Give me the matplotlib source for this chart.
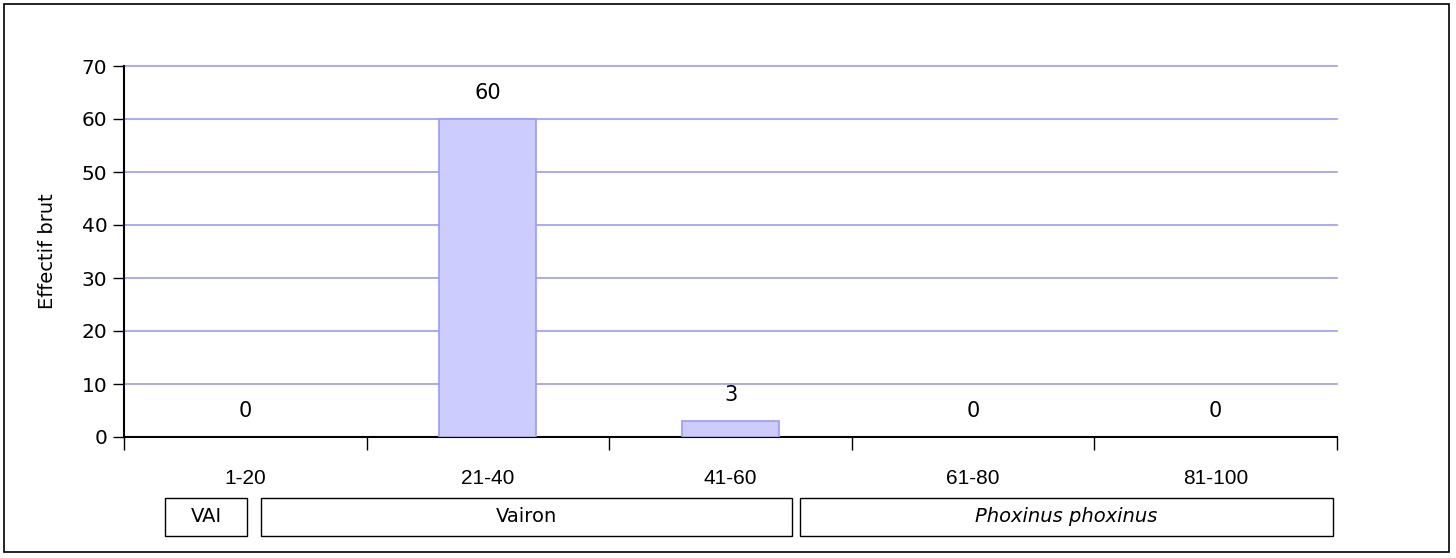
import matplotlib
matplotlib.use("Agg")
import matplotlib.pyplot as plt
from matplotlib.patches import Rectangle

categories = ["1-20", "21-40", "41-60", "61-80", "81-100"]
counts = [0, 60, 3, 0, 0]
y_ticks = [0, 10, 20, 30, 40, 50, 60, 70]
y_label = "Effectif brut"
# (label, x0, x1, italic) in figure pixels
species_boxes = [("VAI", 165, 247, False),
                 ("Vairon", 261, 792, False),
                 ("Phoxinus phoxinus", 800, 1333, True)]

W, H = 1456, 558
fig = plt.figure(figsize=(W / 100, H / 100), dpi=100)
plt.rcParams["font.family"] = ["DejaVu Sans"]

def fx(px):
    return px / W

def fy(py):
    return 1 - py / H

# outer chart frame
fig.patches.append(Rectangle((fx(4), fy(552)), fx(1449) - fx(4), fy(4) - fy(552),
                             transform=fig.transFigure, fill=False,
                             edgecolor="black", linewidth=1.2))

ax = fig.add_axes([fx(124), fy(437), fx(1337) - fx(124), fy(66) - fy(437)])
x = list(range(len(categories)))
bars = ax.bar(x, counts, width=0.4, color="#CCCCFF", edgecolor="#9999FF",
              linewidth=1.2, zorder=3)
for b, v in zip(bars, counts):
    if v == 0:
        b.set_visible(False)
ax.set_xlim(-0.5, len(categories) - 0.5)
ax.set_ylim(0, 70)
ax.set_yticks(y_ticks)
ax.set_yticklabels([str(v) for v in y_ticks], fontsize=14.5)
for v in y_ticks[1:]:
    ax.axhline(v, color="#9999FF", linewidth=1.2, zorder=1, clip_on=False)

ax.set_xticks([i + 0.5 for i in range(-1, len(categories))])
ax.set_xticklabels([])
ax.tick_params(axis="x", direction="out", length=9, width=1, color="black")
ax.tick_params(axis="y", direction="out", length=8, width=1, color="black", pad=4)
for i, c in enumerate(categories):
    ax.text(i, -7.8, c, ha="center", va="center", fontsize=15,
            family="Liberation Sans")

for s in ["top", "right"]:
    ax.spines[s].set_visible(False)
ax.spines["left"].set_linewidth(1.5)
ax.spines["bottom"].set_linewidth(1.5)
ax.set_ylabel(y_label, fontsize=14, labelpad=18)

for i, v in enumerate(counts):
    ax.annotate(str(v), (i, v), xytext=(0, 19), textcoords="offset points",
                ha="center", va="center", fontsize=15)

for label, x0, x1, italic in species_boxes:
    fig.patches.append(Rectangle((fx(x0), fy(536)), fx(x1) - fx(x0), fy(498) - fy(536),
                                 transform=fig.transFigure, fill=False,
                                 edgecolor="black", linewidth=1))
    fig.text((fx(x0) + fx(x1)) / 2, fy(517), label, ha="center", va="center",
             fontsize=14, style="italic" if italic else "normal")

fig.savefig("out.png", dpi=100)
